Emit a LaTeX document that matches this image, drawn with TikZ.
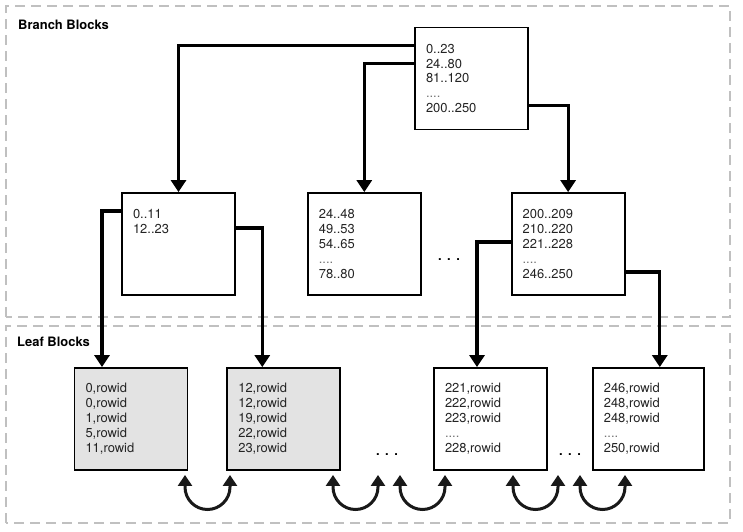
\documentclass[tikz,border=0pt]{standalone}
\usepackage{fontspec}
\setmainfont{TeX Gyre Heros}
\usetikzlibrary{arrows.meta, positioning}
\definecolor{regiongray}{RGB}{192,192,192}
\definecolor{leafgray}{RGB}{227,227,227}
\definecolor{textgray}{RGB}{35,35,35}
\tikzset{
    blockbox/.style={rectangle, draw=black, line width=1.8bp, minimum width=113bp, minimum height=102bp, text width=91bp, inner xsep=11bp, align=left, font=\fontsize{13}{15}\selectfont, text=textgray},
    region/.style={draw=regiongray, line width=2bp, dash pattern=on 10bp off 6bp},
    link/.style={-{Triangle[length=12bp, width=15bp]}, line width=3.2bp, black},
    swaplink/.style={{Triangle[length=11bp, width=14bp]}-{Triangle[length=11bp, width=14bp]}, line width=3bp, black!90},
}
\newcommand{\skipline}{{\color{black!55}....}}

\begin{document}
\begin{tikzpicture}[
    x=1bp, y=1bp,
    leaf/.style={blockbox, fill=#1},
    leaf/.default=white,
    title/.style={anchor=west, font=\fontsize{13}{15}\selectfont\bfseries, inner sep=0pt},
    gap/.style={font=\fontsize{13}{15}\selectfont\bfseries, inner sep=0pt}
]
\useasboundingbox (0,0) rectangle (743,532);

% Regions
\draw[region] (6,215) rectangle (730,526);
\draw[region] (6,9) rectangle (730,206);
\node[title] (branch-title) at (18,507) {Branch Blocks};
\node[title] (leaf-title) at (17,190) {Leaf Blocks};

% Branch blocks
\node[blockbox] (root) at (471.5,453.5) {0..23\\24..80\\81..120\\\skipline\\200..250};
\node[blockbox] (brL) at (178.5,288) {0..11\\12..23\\~\\~\\~};
\node[blockbox, right=71bp of brL] (brM) {24..48\\49..53\\54..65\\\skipline\\78..80};
\node[blockbox, right=89bp of brM] (brR) {200..209\\210..220\\221..228\\\skipline\\246..250};
\node[gap] (gapB) at (449,272) {.\hspace{5.5bp}.\hspace{5.5bp}.};

% Leaf blocks
\node[leaf=leafgray] (leafA) at (131,113) {0,rowid\\0,rowid\\1,rowid\\5,rowid\\11,rowid};
\node[leaf=leafgray, right=38bp of leafA] (leafB) {12,rowid\\12,rowid\\19,rowid\\22,rowid\\23,rowid};
\node[leaf] (leafC) at (490.5,113) {221,rowid\\222,rowid\\223,rowid\\\skipline\\228,rowid};
\node[leaf, right=44bp of leafC, minimum width=111bp, text width=89bp] (leafD) {246,rowid\\248,rowid\\248,rowid\\\skipline\\250,rowid};
\node[gap] (gapL1) at (387,77) {.\hspace{5.5bp}.\hspace{5.5bp}.};
\node[gap] (gapL2) at (570,77) {.\hspace{5.5bp}.\hspace{5.5bp}.};

% Arrows
\draw[link] ([yshift=-19bp]root.north west) -| (brL);
\draw[link] ([yshift=-37bp]root.north west) -| (brM);
\draw[link] ([yshift=-79bp]root.north east) -| (brR);
\draw[link] ([yshift=-19bp]brL.north west) -| ([xshift=-29bp]leafA.north);
\draw[link] ([yshift=-36bp]brL.north east) -| ([xshift=-21.5bp]leafB.north);
\draw[link] ([yshift=-50bp]brR.north west) -| ([xshift=-13.5bp]leafC.north);
\draw[link] ([yshift=-80bp]brR.north east) -| ([xshift=11.5bp]leafD.north);

% Sibling links
\foreach \x in {185,333,400,513,580}
    \draw[swaplink] (\x,57) -- (\x,45) arc[start angle=180, end angle=360, radius=22.5bp] -- (\x+45,57);

\end{tikzpicture}
\end{document}
